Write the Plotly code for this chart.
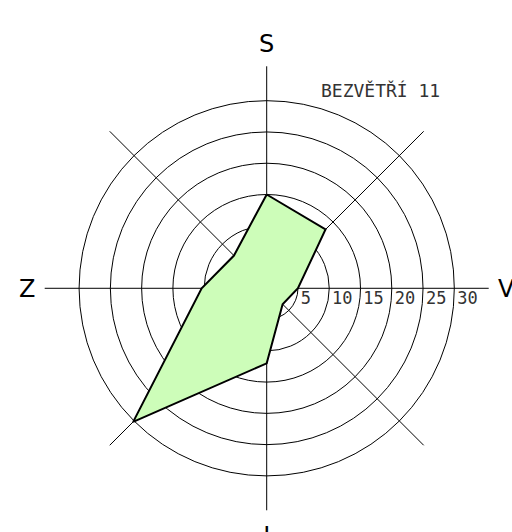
import plotly.graph_objects as go

# wind directions (Czech: S = north, V = east, J = south, Z = west)
directions = ["S", "SV", "V", "JV", "J", "JZ", "Z", "SZ"]
angles = [0, 45, 90, 135, 180, 225, 270, 315]
frequency = [15.0, 13.3, 5.0, 3.6, 12.0, 30.2, 10.4, 7.4]

ring_values = [5, 10, 15, 20, 25, 30]
ring_labels = ["5", "10", "15", "20", "25", "30"]
axis_labels = ["S", "", "V", "", "J", "", "Z", ""]
calm_text = "BEZVĚTŘÍ 11"

fig = go.Figure()

# wind rose polygon (closed)
fig.add_trace(go.Scatterpolar(
    r=frequency + frequency[:1],
    theta=angles + angles[:1],
    mode="lines",
    fill="toself",
    fillcolor="#cdfdb9",
    line=dict(color="black", width=2),
    hoverinfo="skip",
))

# ring value labels along the east axis
fig.add_trace(go.Scatterpolar(
    r=ring_values,
    theta=[90] * len(ring_values),
    mode="markers+text",
    text=ring_labels,
    textposition="bottom right",
    marker=dict(size=3, color="rgba(0,0,0,0)"),
    textfont=dict(family="DejaVu Sans Mono", size=17, color="#333"),
    hoverinfo="skip",
))

fig.update_layout(
    width=512,
    height=532,
    margin=dict(l=0, r=0, t=0, b=0),
    paper_bgcolor="white",
    showlegend=False,
    polar=dict(
        domain=dict(x=[0.0873, 0.9545], y=[0.0408, 0.8754]),
        bgcolor="white",
        radialaxis=dict(
            range=[0, 35.5],
            tickvals=ring_values,
            showticklabels=False,
            ticks="",
            showline=False,
            gridcolor="black",
            gridwidth=1,
        ),
        angularaxis=dict(
            rotation=90,
            direction="clockwise",
            tickmode="array",
            tickvals=angles,
            ticktext=axis_labels,
            ticks="outside",
            ticklen=4,
            tickcolor="rgba(0,0,0,0)",
            showline=False,
            gridcolor="black",
            gridwidth=1,
            tickfont=dict(family="DejaVu Sans", size=24, color="black"),
        ),
    ),
    annotations=[
        dict(
            text=calm_text,
            xref="paper", yref="paper",
            x=380 / 512, y=1 - 91 / 532,
            xanchor="center", yanchor="middle",
            showarrow=False,
            font=dict(family="DejaVu Sans Mono", size=18, color="#333"),
        )
    ],
)

# drop the default body margin so the figure sits at the page corner
fig.write_html(
    "out.html",
    config={"displayModeBar": False},
    post_script="document.body.style.margin = '0';",
)
